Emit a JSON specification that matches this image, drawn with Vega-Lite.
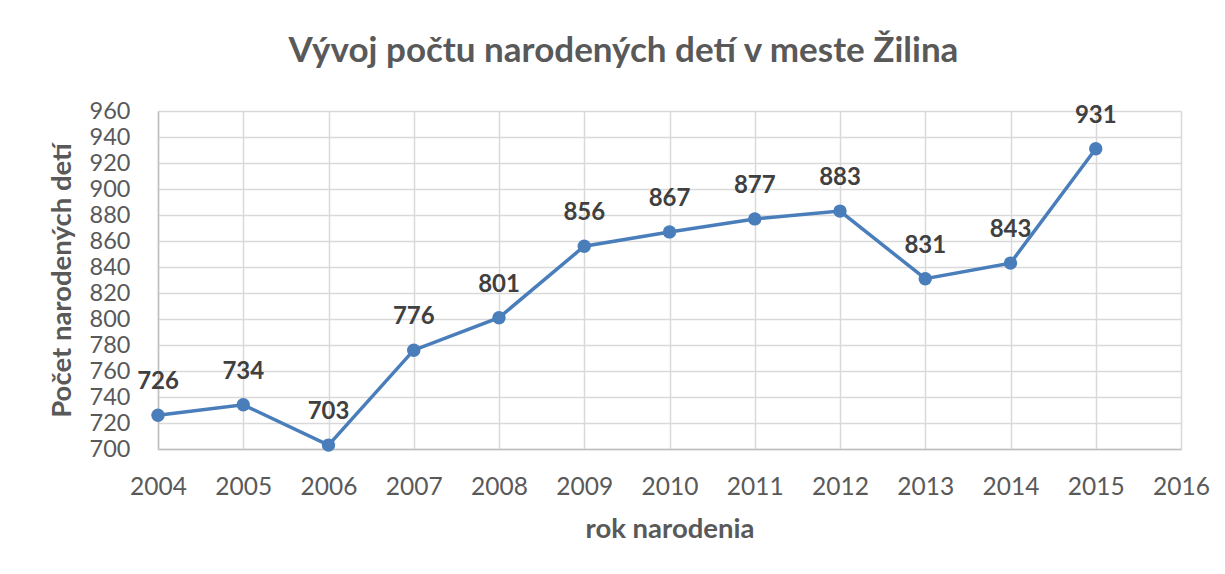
{
  "$schema": "https://vega.github.io/schema/vega-lite/v6.json",
  "width": 1023,
  "height": 338,
  "autosize": {"type": "none"},
  "padding": {"left": 158, "top": 111, "right": 44, "bottom": 125},
  "background": "white",
  "config": {
    "font": "Lato",
    "view": {"stroke": null},
    "axis": {"labelFont": "Lato", "titleFont": "Lato"}
  },
  "title": {
    "text": "Vývoj počtu narodených detí v meste Žilina",
    "font": "Lato",
    "fontSize": 35,
    "fontWeight": "bold",
    "color": "#595959",
    "anchor": "middle",
    "dx": -46,
    "offset": 30
  },
  "data": {
    "values": [
      {"rok": 2004, "pocet": 726},
      {"rok": 2005, "pocet": 734},
      {"rok": 2006, "pocet": 703},
      {"rok": 2007, "pocet": 776},
      {"rok": 2008, "pocet": 801},
      {"rok": 2009, "pocet": 856},
      {"rok": 2010, "pocet": 867},
      {"rok": 2011, "pocet": 877},
      {"rok": 2012, "pocet": 883},
      {"rok": 2013, "pocet": 831},
      {"rok": 2014, "pocet": 843},
      {"rok": 2015, "pocet": 931}
    ]
  },
  "encoding": {
    "x": {
      "field": "rok",
      "type": "quantitative",
      "scale": {"domain": [2004, 2016], "nice": false, "zero": false},
      "axis": {
        "title": "rok narodenia",
        "values": [2004, 2005, 2006, 2007, 2008, 2009, 2010, 2011, 2012, 2013, 2014, 2015, 2016],
        "format": "d",
        "labelFontSize": 24.5,
        "labelColor": "#595959",
        "labelPadding": 26,
        "labelFlush": false,
        "ticks": false,
        "grid": true,
        "gridColor": "#D9D9D9",
        "gridWidth": 1.5,
        "domainColor": "#BFBFBF",
        "domainWidth": 1.5,
        "titleFontSize": 27.5,
        "titleFontWeight": "bold",
        "titleColor": "#595959",
        "titlePadding": 17
      }
    },
    "y": {
      "field": "pocet",
      "type": "quantitative",
      "scale": {"domain": [700, 960], "nice": false, "zero": false},
      "axis": {
        "title": "Počet narodených detí",
        "values": [700, 720, 740, 760, 780, 800, 820, 840, 860, 880, 900, 920, 940, 960],
        "labelFontSize": 23.5,
        "labelColor": "#595959",
        "labelPadding": 28,
        "labelFlush": false,
        "ticks": false,
        "grid": true,
        "gridColor": "#D9D9D9",
        "gridWidth": 1.5,
        "domainColor": "#BFBFBF",
        "domainWidth": 1.5,
        "titleFontSize": 27.5,
        "titleFontWeight": "bold",
        "titleColor": "#595959",
        "titlePadding": 13
      }
    }
  },
  "layer": [
    {
      "mark": {"type": "line", "color": "#4A7EBB", "strokeWidth": 3.5}
    },
    {
      "mark": {"type": "point", "filled": true, "color": "#4A7EBB", "size": 180, "opacity": 1}
    },
    {
      "mark": {"type": "text", "font": "Lato", "fontSize": 24, "fontWeight": "bold", "color": "#404040", "dy": -33, "baseline": "middle"},
      "encoding": {"text": {"field": "pocet", "type": "quantitative"}}
    }
  ]
}
